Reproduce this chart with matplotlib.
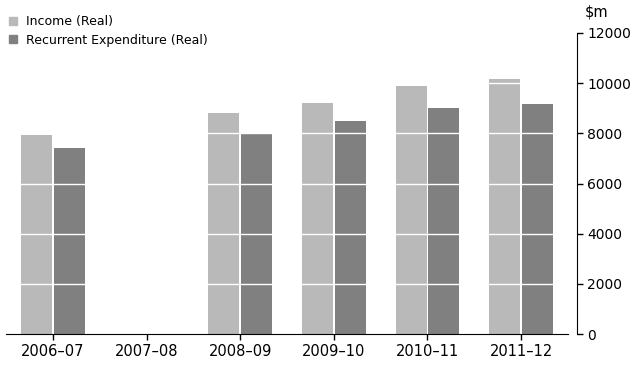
import matplotlib
matplotlib.use("Agg")
import matplotlib.pyplot as plt
from matplotlib.patches import Patch
import numpy as np

years = ["2006–07", "2007–08", "2008–09", "2009–10", "2010–11", "2011–12"]
income = [7940, np.nan, 8820, 9220, 9890, 10170]
expenditure = [7420, np.nan, 8020, 8500, 9020, 9180]
yticks = [0, 2000, 4000, 6000, 8000, 10000, 12000]

c_inc = "#b9b9b9"
c_exp = "#808080"

plt.rcParams["font.family"] = ["DejaVu Sans"]

fig = plt.figure(figsize=(6.42, 3.66), dpi=100)
W, H = 642, 366
ax = fig.add_axes([6 / W, (H - 334) / H, (568 - 6) / W, (334 - 33) / H])

x = np.arange(len(years))
ax.bar(x - 0.175, income, width=0.33, color=c_inc, zorder=2)
ax.bar(x + 0.175, expenditure, width=0.33, color=c_exp, zorder=2)

# white gridlines over the bars
ax.hlines(yticks[1:-1], -0.5, len(years) - 0.5, colors="white", lw=1.0, zorder=3)

ax.set_xlim(-0.5, len(years) - 0.5)
ax.set_ylim(0, 12000)
ax.set_xticks(x)
ax.set_xticklabels(years, fontsize=10.5)
ax.set_yticks(yticks)
ax.set_yticklabels([str(v) for v in yticks], fontsize=10.5)

ax.spines["top"].set_visible(False)
ax.spines["left"].set_visible(False)
ax.spines["right"].set_position(("outward", 6.5))
ax.yaxis.tick_right()
ax.tick_params(axis="y", direction="out", length=4.5, width=1, pad=3)
ax.tick_params(axis="x", direction="out", length=4, width=1, pad=3)

fig.text(585 / W, 1 - 12 / H, "$m", fontsize=10.5, va="center", ha="left")

handles = [Patch(color=c_inc), Patch(color=c_exp)]
fig.legend(handles, ["Income (Real)", "Recurrent Expenditure (Real)"],
           loc="upper left", bbox_to_anchor=(9 / W, 1 - 15 / H), frameon=False,
           fontsize=9, handlelength=0.6, handleheight=0.6, handletextpad=0.8,
           labelspacing=0.45, borderaxespad=0, borderpad=0)

fig.savefig("out.png", dpi=100)
